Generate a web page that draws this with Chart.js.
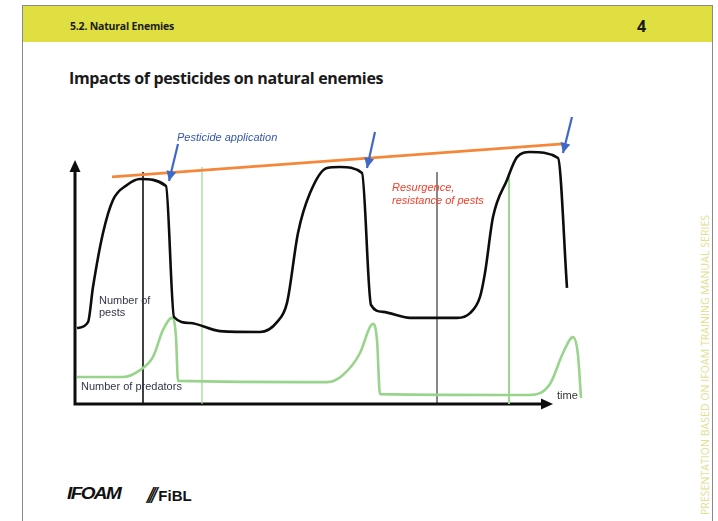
<!DOCTYPE html>
<html>
<head>
<meta charset="utf-8">
<script src="https://cdn.jsdelivr.net/npm/chart.js@4/dist/chart.umd.min.js"></script>
<style>
  html, body { margin: 0; padding: 0; background: #ffffff; }
  body { width: 718px; height: 521px; position: relative; overflow: hidden; font-family: "Open Sans", "DejaVu Sans", sans-serif; }
  .frame { position: absolute; left: 22px; top: 5px; width: 691px; height: 530px; border: 1px solid #8a8a8a; box-sizing: border-box; }
  .band { position: absolute; left: 23px; top: 6px; width: 689px; height: 36px; background: #dfdf42; }
  .section { position: absolute; left: 70px; top: 19px; font-size: 10.5px; font-weight: 700; color: #1a1a1a; letter-spacing: -0.2px; }
  .page { position: absolute; left: 637px; top: 15px; font-size: 16px; font-weight: 700; color: #1a1a1a; }
  .title { position: absolute; left: 69px; top: 67px; font-size: 16px; font-weight: 700; color: #1a1a1a; letter-spacing: -0.35px; }
  .side { position: absolute; left: 705px; top: 515px; transform-origin: 0 0; transform: rotate(-90deg) translateY(-50%); white-space: nowrap; font-size: 10.5px; color: #e0e090; letter-spacing: 0.05px; }
  .ifoam { position: absolute; left: 67px; top: 483px; font-family: "Liberation Sans", Arial, sans-serif; font-size: 19px; font-weight: 700; font-style: italic; color: #111; letter-spacing: -1.6px; transform: scaleY(0.85); transform-origin: 0 50%; }
  .fibl { position: absolute; left: 147px; top: 483px; font-family: "Liberation Sans", Arial, sans-serif; font-size: 15px; font-weight: 700; color: #111; }
  .fibl span { font-style: italic; font-weight: 400; font-size: 22px; letter-spacing: -4px; margin-right: 5px; vertical-align: -2px; }
  canvas { position: absolute; left: 0; top: 0; }
</style>
</head>
<body>
<div class="frame"></div>
<div class="band"></div>
<div class="section">5.2. Natural Enemies</div>
<div class="page">4</div>
<div class="title">Impacts of pesticides on natural enemies</div>
<div class="side">PRESENTATION BASED ON IFOAM TRAINING MANUAL SERIES</div>
<div class="ifoam">IFOAM</div>
<div class="fibl"><span>///</span>FiBL</div>
<canvas id="chart" width="718" height="521"></canvas>
<script>
// Pest population over time (schematic units)
const pestTime  = [0.4, 2.6, 3.6, 5.6, 7.6, 10.4, 13.0, 18.2, 19.8, 23.0, 29.0, 37.0, 40.4, 42.4, 44.6, 47.0, 50.4, 53.0, 57.4, 59.2, 61.6, 67.0, 76.4, 79.0, 81.0, 82.0, 83.6, 86.4, 88.4, 91.0, 96.6, 98.4];
const pestLevel = [25.3, 27.3, 39.0, 57.0, 68.0, 73.0, 75.0, 72.7, 29.0, 27.0, 24.3, 24.0, 27.3, 33.7, 57.0, 70.3, 78.7, 79.0, 77.0, 33.0, 30.7, 28.7, 28.7, 30.3, 35.7, 43.7, 62.3, 74.7, 82.3, 84.0, 82.0, 38.7];

// Predator population over time
const predatorTime  = [0.4, 9.6, 13.0, 15.6, 17.6, 19.4, 20.2, 20.6, 50.4, 53.6, 57.0, 59.0, 59.6, 60.4, 61.0, 91.0, 95.0, 97.6, 99.6, 100.6, 101.2];
const predatorLevel = [9.0, 9.0, 11.3, 15.7, 24.7, 28.7, 22.3, 7.7, 7.3, 9.7, 17.0, 25.7, 26.7, 21.3, 3.3, 3.0, 6.7, 17.0, 22.3, 16.3, 2.0];

// Rising peak trend (resurgence)
const trendTime  = [7.4, 97.6];
const trendLevel = [75.7, 86.7];

// Vertical time markers
const markerTime   = [13.6, 25.4, 72.4, 86.8];
const markerTop    = [77.3, 79.0, 77.3, 77.0];
const markerColor  = ['#111111', '#9bd68f', '#111111', '#9bd68f'];
const markerWidth  = [1.6, 1.2, 1.0, 2.0];

// Pesticide application arrows: start (x0,y0) -> tip (x1,y1)
const sprayStartTime  = [20.6, 60.0, 99.4];
const sprayStartLevel = [86.7, 90.7, 95.7];
const sprayTipTime    = [18.8, 58.4, 97.6];
const sprayTipLevel   = [74.3, 78.7, 83.7];

// Axis extents
const axisTimeEnd = 95.6;
const axisLevelEnd = 81.3;

// Annotations
const labels = [
  { text: 'Pesticide application', x: 20.4, y: 88.7, color: '#3656aa', italic: true },
  { text: 'Resurgence,', x: 63.4, y: 72.0, color: '#f0402c', italic: true },
  { text: 'resistance of pests', x: 63.4, y: 67.8, color: '#f0402c', italic: true },
  { text: 'Number of', x: 4.8, y: 34.3, color: '#34364a', italic: false },
  { text: 'pests', x: 4.8, y: 30.2, color: '#34364a', italic: false },
  { text: 'Number of predators', x: 1.2, y: 5.8, color: '#34364a', italic: false },
  { text: 'time', x: 96.4, y: 2.8, color: '#333333', italic: false }
];

const pts = (xs, ys) => xs.map((x, i) => ({ x: x, y: ys[i] }));

const datasets = [];
markerTime.forEach((t, i) => {
  datasets.push({
    data: [{ x: t, y: 0 }, { x: t, y: markerTop[i] }],
    borderColor: markerColor[i], borderWidth: markerWidth[i],
    showLine: true, pointRadius: 0, order: 5
  });
});
datasets.push({
  label: 'Number of predators',
  data: pts(predatorTime, predatorLevel),
  borderColor: '#98d48c', borderWidth: 2.6,
  showLine: true, pointRadius: 0, cubicInterpolationMode: 'monotone', order: 3
});
datasets.push({
  label: 'Number of pests',
  data: pts(pestTime, pestLevel),
  borderColor: '#0d0d0d', borderWidth: 2.6, borderJoinStyle: 'round',
  showLine: true, pointRadius: 0, cubicInterpolationMode: 'monotone', order: 2
});
datasets.push({
  data: pts(trendTime, trendLevel),
  borderColor: '#f5873a', borderWidth: 2.6,
  showLine: true, pointRadius: 0, order: 1
});
sprayStartTime.forEach((t, i) => {
  datasets.push({
    data: [{ x: t, y: sprayStartLevel[i] }, { x: sprayTipTime[i], y: sprayTipLevel[i] }],
    borderColor: '#3f69c6', borderWidth: 2.2,
    showLine: true, pointRadius: 0, order: 0, clip: false
  });
});

function arrowHead(ctx, x0, y0, x1, y1, len, half, color) {
  const a = Math.atan2(y1 - y0, x1 - x0);
  ctx.save();
  ctx.fillStyle = color;
  ctx.beginPath();
  ctx.moveTo(x1, y1);
  ctx.lineTo(x1 - len * Math.cos(a) + half * Math.sin(a), y1 - len * Math.sin(a) - half * Math.cos(a));
  ctx.lineTo(x1 - len * Math.cos(a) - half * Math.sin(a), y1 - len * Math.sin(a) + half * Math.cos(a));
  ctx.closePath();
  ctx.fill();
  ctx.restore();
}

const decorations = {
  id: 'decorations',
  beforeDatasetsDraw(chart) {
    const { ctx, scales: { x, y } } = chart;
    const ox = x.getPixelForValue(0), oy = y.getPixelForValue(0);
    const xe = x.getPixelForValue(axisTimeEnd), ye = y.getPixelForValue(axisLevelEnd);
    ctx.save();
    ctx.strokeStyle = '#0d0d0d';
    ctx.lineWidth = 3;
    ctx.beginPath();
    ctx.moveTo(ox, ye + 8);
    ctx.lineTo(ox, oy);
    ctx.lineTo(xe - 8, oy);
    ctx.stroke();
    ctx.restore();
    arrowHead(ctx, ox, oy, ox, ye, 12, 5.5, '#0d0d0d');
    arrowHead(ctx, ox, oy, xe, oy, 12, 5.5, '#0d0d0d');
  },
  afterDatasetsDraw(chart) {
    const { ctx, scales: { x, y } } = chart;
    sprayStartTime.forEach((t, i) => {
      arrowHead(ctx,
        x.getPixelForValue(t), y.getPixelForValue(sprayStartLevel[i]),
        x.getPixelForValue(sprayTipTime[i]), y.getPixelForValue(sprayTipLevel[i]),
        10, 5, '#3f69c6');
    });
    ctx.save();
    ctx.textBaseline = 'middle';
    ctx.textAlign = 'left';
    labels.forEach(l => {
      ctx.font = (l.italic ? 'italic ' : '') + '11px "Liberation Sans", Arial, sans-serif';
      ctx.fillStyle = l.color;
      ctx.fillText(l.text, x.getPixelForValue(l.x), y.getPixelForValue(l.y));
    });
    ctx.restore();
  }
};

new Chart(document.getElementById('chart'), {
  type: 'scatter',
  data: { datasets: datasets },
  options: {
    responsive: false,
    animation: false,
    devicePixelRatio: 1,
    layout: { padding: { left: 75, top: 104, right: 123, bottom: 117 } },
    scales: {
      x: { type: 'linear', min: 0, max: 104, display: false },
      y: { type: 'linear', min: 0, max: 100, display: false }
    },
    plugins: { legend: { display: false }, tooltip: { enabled: false } }
  },
  plugins: [decorations]
});
</script>
</body>
</html>
